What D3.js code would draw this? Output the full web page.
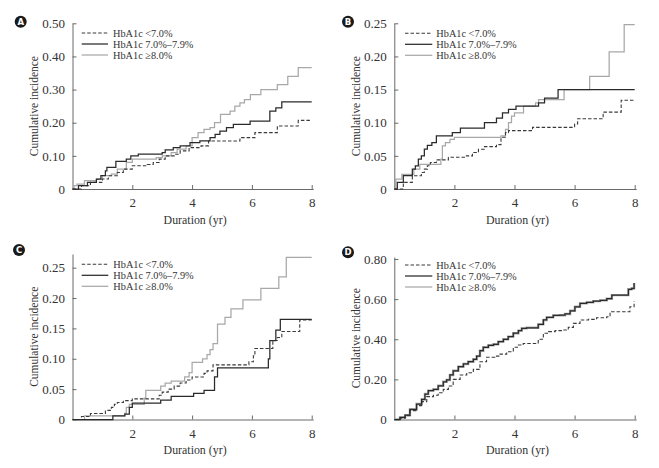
<!DOCTYPE html>
<html><head><meta charset="utf-8">
<script src="https://cdn.jsdelivr.net/npm/d3@7"></script>
<style>
html,body{margin:0;padding:0;background:#fff;}
svg{display:block;font-family:"Liberation Serif","Times New Roman",Times,serif;}
svg text{font-family:"Liberation Serif","Times New Roman",Times,serif;}
svg text.badge{font-family:"DejaVu Sans",Arial,sans-serif;font-weight:bold;}
</style></head><body>
<svg id="chart" width="659" height="468"></svg>
<script>
// ---------------- DATA (duration in years, cumulative incidence) ----------------
const seriesLabels = ["HbA1c <7.0%", "HbA1c 7.0%\u20137.9%", "HbA1c \u22658.0%"];
const panelLetters = ["A", "B", "C", "D"];
const xTicks = [2, 4, 6, 8];
const yTicksA = [0, 0.10, 0.20, 0.30, 0.40, 0.50];
const yTicksB = [0, 0.05, 0.10, 0.15, 0.20, 0.25];
const yTicksC = [0, 0.05, 0.10, 0.15, 0.20, 0.25];
const yTicksD = [0, 0.20, 0.40, 0.60, 0.80];
const xTitle = "Duration (yr)";
const yTitle = "Cumulative incidence";

const A_lt7 = [[0,0],[0.3,0.01],[0.6,0.02],[1.0,0.03],[1.2,0.04],[1.5,0.05],[1.7,0.06],[2.0,0.07],[2.5,0.074],[2.7,0.08],[2.9,0.09],[3.1,0.10],[3.4,0.105],[3.6,0.115],[3.9,0.125],[4.3,0.13],[4.55,0.145],[5.6,0.155],[6.1,0.17],[6.85,0.19],[7.55,0.207],[8.0,0.207]];
const A_78  = [[0,0],[0.2,0.01],[0.5,0.02],[0.8,0.03],[0.95,0.04],[1.1,0.055],[1.15,0.065],[1.45,0.083],[1.8,0.09],[1.95,0.10],[2.2,0.105],[3.0,0.11],[3.1,0.118],[3.37,0.125],[3.6,0.13],[3.93,0.14],[4.26,0.145],[4.6,0.155],[4.77,0.165],[4.93,0.175],[5.15,0.185],[5.38,0.195],[5.94,0.205],[6.6,0.235],[6.8,0.245],[7.0,0.263],[8.0,0.263]];
const A_ge8 = [[0,0],[0.05,0.01],[0.15,0.015],[0.4,0.025],[0.8,0.03],[1.0,0.04],[1.3,0.045],[1.5,0.06],[1.8,0.08],[2.0,0.09],[2.8,0.095],[3.0,0.10],[3.3,0.11],[3.5,0.12],[3.8,0.13],[4.0,0.155],[4.2,0.17],[4.4,0.18],[4.6,0.185],[4.75,0.20],[4.95,0.225],[5.27,0.235],[5.43,0.25],[5.6,0.26],[5.75,0.27],[5.95,0.285],[6.3,0.30],[6.85,0.315],[7.2,0.34],[7.55,0.366],[8.0,0.366]];

const B_lt7 = [[0,0],[0.3,0.01],[0.6,0.02],[0.9,0.025],[1.0,0.03],[1.1,0.035],[1.2,0.04],[1.4,0.044],[1.8,0.048],[2.4,0.05],[2.6,0.055],[2.8,0.06],[3.0,0.064],[3.4,0.067],[3.55,0.078],[3.7,0.085],[3.8,0.088],[4.6,0.093],[6.0,0.098],[6.1,0.106],[6.95,0.116],[7.55,0.134],[8.0,0.134]];
const B_78  = [[0,0],[0.1,0.01],[0.3,0.02],[0.6,0.03],[0.7,0.035],[0.8,0.045],[0.9,0.05],[1.0,0.06],[1.1,0.066],[1.25,0.07],[1.4,0.08],[1.93,0.085],[2.2,0.092],[3.0,0.10],[3.4,0.107],[3.6,0.115],[3.8,0.12],[4.05,0.125],[4.8,0.13],[5.0,0.137],[5.45,0.15],[8.0,0.15]];
const B_ge8 = [[0,0],[0.05,0.015],[0.25,0.022],[0.65,0.03],[0.85,0.037],[1.55,0.045],[1.6,0.065],[1.7,0.07],[1.85,0.075],[2.0,0.078],[3.55,0.08],[3.7,0.09],[3.8,0.10],[3.9,0.11],[4.0,0.115],[4.3,0.125],[4.7,0.13],[4.8,0.135],[5.65,0.15],[6.5,0.17],[7.15,0.207],[7.65,0.248],[8.0,0.248]];

const C_lt7 = [[0,0],[0.3,0.005],[0.6,0.01],[1.1,0.015],[1.3,0.02],[1.4,0.025],[1.5,0.028],[1.7,0.031],[2.0,0.034],[2.9,0.04],[3.0,0.045],[3.2,0.05],[3.4,0.055],[3.6,0.06],[3.8,0.065],[4.0,0.07],[4.4,0.076],[4.5,0.08],[4.7,0.09],[5.9,0.095],[6.05,0.105],[6.1,0.117],[6.7,0.13],[6.85,0.135],[7.0,0.145],[7.6,0.164],[8.0,0.164]];
const C_78  = [[0,0],[1.35,0.006],[1.75,0.009],[1.9,0.02],[2.0,0.027],[2.95,0.032],[3.3,0.038],[4.05,0.043],[4.4,0.048],[4.75,0.07],[4.85,0.085],[6.55,0.10],[6.6,0.13],[6.8,0.147],[6.95,0.165],[8.0,0.165]];
const C_ge8 = [[0,0],[0.4,0.006],[1.75,0.01],[1.8,0.02],[1.9,0.025],[2.4,0.035],[2.45,0.048],[2.95,0.055],[3.1,0.06],[3.3,0.063],[3.75,0.07],[3.9,0.077],[4.0,0.094],[4.35,0.10],[4.5,0.107],[4.6,0.115],[4.7,0.125],[4.85,0.157],[5.1,0.168],[5.3,0.182],[5.7,0.197],[6.3,0.216],[6.9,0.235],[7.15,0.267],[8.0,0.267]];

const D_lt7 = [[0,0],[0.19,0.006],[0.36,0.019],[0.52,0.044],[0.74,0.069],[0.91,0.089],[1.08,0.114],[1.30,0.121],[1.46,0.133],[1.63,0.15],[1.80,0.167],[1.96,0.20],[2.19,0.222],[2.41,0.233],[2.63,0.25],[2.85,0.288],[3.07,0.31],[3.35,0.316],[3.52,0.326],[3.74,0.338],[3.96,0.36],[4.13,0.371],[4.29,0.379],[4.79,0.40],[4.96,0.43],[5.13,0.438],[5.35,0.443],[5.62,0.446],[5.79,0.459],[5.96,0.479],[6.18,0.496],[6.46,0.499],[6.73,0.507],[7.07,0.512],[7.18,0.537],[7.84,0.562],[7.98,0.59]];
const D_78  = [[0,0],[0.19,0.01],[0.36,0.022],[0.52,0.05],[0.74,0.077],[0.91,0.10],[1.02,0.127],[1.13,0.144],[1.30,0.15],[1.46,0.168],[1.63,0.188],[1.74,0.197],[1.85,0.222],[1.96,0.243],[2.13,0.263],[2.30,0.277],[2.46,0.288],[2.63,0.30],[2.74,0.316],[2.85,0.343],[2.96,0.36],[3.13,0.37],[3.30,0.375],[3.46,0.388],[3.63,0.40],[3.79,0.413],[3.96,0.43],[4.13,0.443],[4.24,0.454],[4.40,0.457],[4.79,0.474],[4.96,0.496],[5.07,0.509],[5.29,0.519],[5.51,0.52],[5.68,0.526],[5.85,0.542],[6.01,0.562],[6.18,0.579],[6.40,0.584],[6.62,0.59],[6.85,0.594],[7.07,0.602],[7.24,0.62],[7.79,0.649],[7.90,0.653],[7.98,0.68]];
const D_ge8 = D_78; // in the picture the \u22658.0% curve lies under the 7.0%\u20137.9% curve

// ---------------- LAYOUT ----------------
const svg = d3.select("#chart");

const panels = [
  {letter: panelLetters[0], series: [A_lt7, A_78, A_ge8], yTicks: yTicksA, yMax: 0.50, x0: 72.5, unit: 29.9, yBot: 189, yTop: 23.3,
   badge: [20.7, 21.7], leg: {x1: 81.7, x2: 108, tx: 113, y: 33}},
  {letter: panelLetters[1], series: [B_lt7, B_78, B_ge8], yTicks: yTicksB, yMax: 0.25, x0: 394.3, unit: 30.05, yBot: 189, yTop: 23.3,
   badge: [348, 21.7], leg: {x1: 405, x2: 432.3, tx: 436.3, y: 33.3}},
  {letter: panelLetters[2], series: [C_lt7, C_78, C_ge8], yTicks: yTicksC, yMax: 0.2725, x0: 72.5, unit: 29.9, yBot: 419.5, yTop: 254,
   badge: [19, 250], leg: {x1: 81.7, x2: 108.3, tx: 113.3, y: 264.3}},
  {letter: panelLetters[3], series: [D_lt7, D_78, D_ge8], yTicks: yTicksD, yMax: 0.81, x0: 394.3, unit: 30.05, yBot: 419.5, yTop: 257.0,
   badge: [348, 252.3], leg: {x1: 405, x2: 432.3, tx: 436.3, y: 265}}
];

const styles = [
  {color: "#3a3a3a", dash: "3.5,2", width: 1.1},
  {color: "#2a2a2a", dash: null, width: 1.25},
  {color: "#a8a8a8", dash: null, width: 1.25}
];
const drawOrder = [2, 0, 1];

panels.forEach((p, pi) => {
  const x = d3.scaleLinear().domain([0, 8.05]).range([p.x0, p.x0 + 8.05 * p.unit]);
  const y = d3.scaleLinear().domain([0, p.yMax]).range([p.yBot, p.yTop]);
  const g = svg.append("g");

  // axes
  const xAxis = d3.axisBottom(x).tickValues(xTicks).tickSize(-4).tickSizeOuter(0).tickPadding(9).tickFormat(d3.format("d"));
  const yAxis = d3.axisLeft(y).tickValues(p.yTicks).tickSize(-4).tickSizeOuter(0).tickPadding(7.5)
    .tickFormat(d => d === 0 ? "0" : d3.format(".2f")(d));
  const gx = g.append("g").attr("transform", `translate(0,${p.yBot})`).call(xAxis);
  const gy = g.append("g").attr("transform", `translate(${p.x0},0)`).call(yAxis);
  [gx, gy].forEach(a => {
    a.attr("font-family", null).attr("font-size", 13);
    a.selectAll("path,line").attr("stroke", "#6a6a6a").attr("stroke-width", 1);
    a.selectAll("text").attr("fill", "#333");
  });

  // curves
  const line = d3.line().x(d => x(d[0])).y(d => y(d[1])).curve(d3.curveStepAfter);
  drawOrder.forEach(si => {
    const st = styles[si];
    g.append("path")
      .attr("d", line(p.series[si]))
      .attr("fill", "none")
      .attr("stroke", st.color)
      .attr("stroke-width", (pi === 3 && si === 2) ? 2.4 : st.width)
      .attr("stroke-dasharray", st.dash);
  });

  // legend
  seriesLabels.forEach((lab, i) => {
    const st = styles[i];
    const ly = p.leg.y + i * 11;
    g.append("line").attr("x1", p.leg.x1).attr("x2", p.leg.x2).attr("y1", ly).attr("y2", ly)
      .attr("stroke", st.color).attr("stroke-width", st.width).attr("stroke-dasharray", st.dash);
    g.append("text").attr("x", p.leg.tx).attr("y", ly).attr("dy", "0.35em")
      .attr("font-size", 10.3).attr("fill", "#333").text(lab);
  });

  // titles
  g.append("text").attr("x", x(4) + 3).attr("y", p.yBot + 34.5).attr("text-anchor", "middle")
    .attr("font-size", 13.5).attr("fill", "#333")
    .attr("textLength", 63).attr("lengthAdjust", "spacingAndGlyphs").text(xTitle);
  g.append("text").attr("transform", `translate(${p.x0 - 39},${(p.yBot + p.yTop) / 2}) rotate(-90)`)
    .attr("dy", "0.35em").attr("text-anchor", "middle")
    .attr("font-size", 13.5).attr("fill", "#333")
    .attr("textLength", 100).attr("lengthAdjust", "spacingAndGlyphs").text(yTitle);

  // panel badge
  g.append("circle").attr("cx", p.badge[0]).attr("cy", p.badge[1]).attr("r", 6).attr("fill", "#1a1a1a");
  g.append("text").attr("class", "badge").attr("x", p.badge[0]).attr("y", p.badge[1]).attr("dy", "0.36em")
    .attr("text-anchor", "middle").attr("font-size", 8.5).attr("fill", "#fff").text(p.letter);
});
</script>
</body></html>
